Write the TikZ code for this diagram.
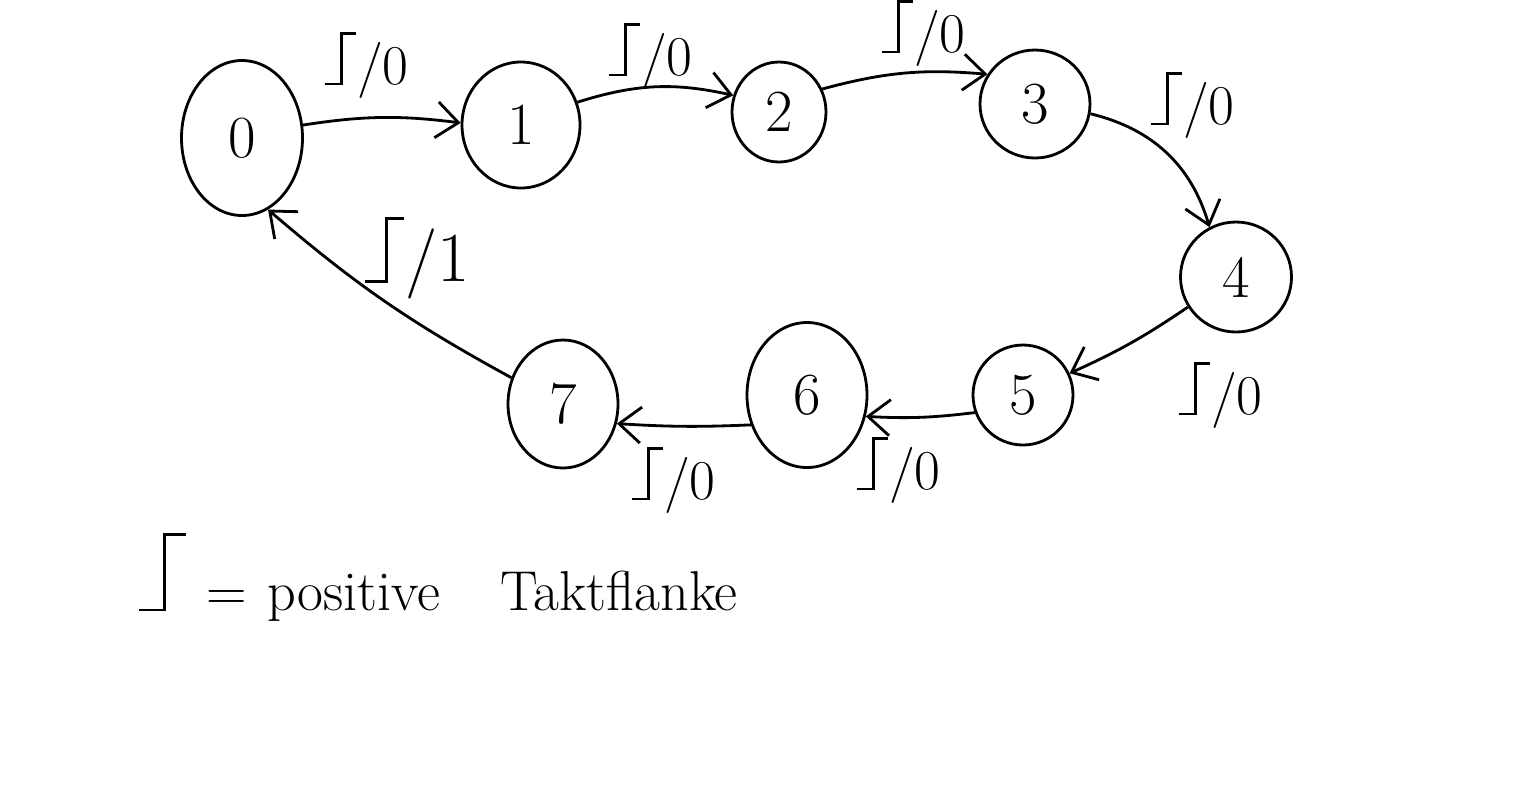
\documentclass[tikz,border=0pt]{standalone}
\usepackage{tikz}
\usetikzlibrary{shapes.geometric,arrows.meta}
\newcommand{\redge}{\tikz[baseline=0pt,line width=0.8pt]\draw (0,0)--(0.3em,0)--(0.3em,0.9em)--(0.55em,0.9em);}
\tikzset{
  state/.style={draw, thick, ellipse, inner sep=0pt, font=\fontsize{17}{19}\selectfont},
  trans/.style={-{Straight Barb[length=2.2mm,width=3.6mm]}, thick},
  lbl/.style={font=\fontsize{16}{18}\selectfont, inner sep=1pt},
  note/.style={font=\fontsize{16}{18}\selectfont, anchor=base west, inner sep=0pt}
}
\begin{document}
\begin{tikzpicture}
  \useasboundingbox (0,0) rectangle (15.36,-7.9);
  \node[state, minimum width=1.21cm, minimum height=1.55cm] (s0) at (2.42,-1.38) {0};
  \node[state, minimum width=1.18cm, minimum height=1.26cm] (s1) at (5.21,-1.25) {1};
  \node[state, minimum width=0.94cm, minimum height=1.00cm] (s2) at (7.79,-1.12) {2};
  \node[state, minimum width=1.10cm, minimum height=1.08cm] (s3) at (10.35,-1.04) {3};
  \node[state, minimum width=1.11cm, minimum height=1.10cm] (s4) at (12.36,-2.77) {4};
  \node[state, minimum width=1.00cm, minimum height=1.00cm] (s5) at (10.23,-3.95) {5};
  \node[state, minimum width=1.20cm, minimum height=1.45cm] (s6) at (8.07,-3.95) {6};
  \node[state, minimum width=1.10cm, minimum height=1.28cm] (s7) at (5.63,-4.04) {7};
  \draw[trans] (s0.12) to[bend left=8] (s1.178);
  \draw[trans] (s1.22) to[bend left=15] (s2.160);
  \draw[trans] (s2.28) to[bend left=10] (s3.148);
  \draw[trans] (s3.350) to[bend left=30] (s4.118);
  \draw[trans] (s4.212) to[bend left=5] (s5.25);
  \draw[trans] (s5.200) to[bend left=5] (s6.340);
  \draw[trans] (s6.208) to[bend left=3] (s7.340);
  \draw[trans] (s7.153) to[bend left=6] (s0.290);
  \node[lbl] (l01) at (3.66,-0.65) {\redge/0};
  \node[lbl] (l12) at (6.50,-0.56) {\redge/0};
  \node[lbl] (l23) at (9.23,-0.33) {\redge/0};
  \node[lbl] (l34) at (11.92,-1.05) {\redge/0};
  \node[lbl] (l45) at (12.20,-3.95) {\redge/0};
  \node[lbl] (l56) at (8.98,-4.70) {\redge/0};
  \node[lbl] (l67) at (6.73,-4.80) {\redge/0};
  \node[lbl, font=\fontsize{20}{22}\selectfont] (l70) at (4.17,-2.58) {\redge/1};
  \node[note] (legend) at (1.37,-6.10) {{\fontsize{24}{26}\selectfont\redge}\hspace{0.2cm}=\hspace{0.2cm}positive\hspace{0.6cm}Taktflanke};
\end{tikzpicture}
\end{document}
